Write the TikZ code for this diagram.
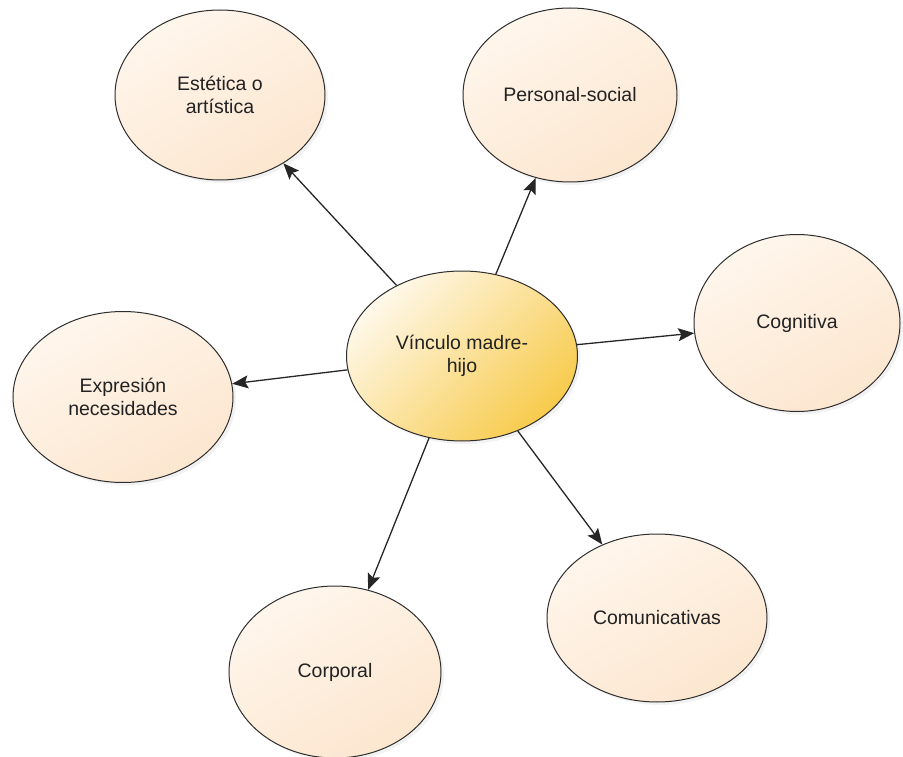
\documentclass[tikz,border=0pt]{standalone}
\usepackage{fontspec}
\setmainfont{Liberation Sans}
\usetikzlibrary{shapes.geometric,arrows.meta,shadows}
\definecolor{edgegray}{HTML}{2E2E2E}
\definecolor{txt}{HTML}{222222}
\definecolor{outerA}{HTML}{FFF6EC}
\definecolor{outerB}{HTML}{FCE6CF}
\definecolor{centA}{HTML}{FFF8EA}
\definecolor{centB}{HTML}{F7CB4C}
\tikzset{
  bubble/.style={ellipse, draw=edgegray, line width=1pt, inner sep=0pt,
    top color=outerA, bottom color=outerB, shading angle=30,
    drop shadow={shadow xshift=3pt, shadow yshift=-3pt, fill=black!10},
    text=txt, align=center,
    font=\fontsize{19.5pt}{23pt}\selectfont},
  hub/.style={bubble, top color=centA, bottom color=centB, shading angle=45},
  link/.style={draw=black!85, line width=1.3pt, -{Stealth[length=16pt,width=13pt,inset=3pt]}}
}
\begin{document}
\begin{tikzpicture}[x=1pt,y=-1pt]
\useasboundingbox (0,0) rectangle (903,757);
\node[bubble, minimum width=210pt, minimum height=170pt] (est) at (220,95) {Estética o\\artística};
\node[bubble, minimum width=214pt, minimum height=174pt] (per) at (570,95) {Personal-social};
\node[bubble, minimum width=206pt, minimum height=177pt] (cog) at (797,323) {Cognitiva};
\node[bubble, minimum width=220pt, minimum height=171pt] (exp) at (123,397) {Expresión\\necesidades};
\node[bubble, minimum width=220pt, minimum height=168pt] (com) at (657,618) {Comunicativas};
\node[bubble, minimum width=212pt, minimum height=172pt] (cor) at (335,672) {Corporal};
\node[hub, minimum width=231pt, minimum height=170pt] (vin) at (462,356) {Vínculo madre-\\hijo};
\draw[link] (vin) -- (est);
\draw[link] (vin) -- (per);
\draw[link] (vin) -- (cog);
\draw[link] (vin) -- (exp);
\draw[link] (vin) -- (cor);
\draw[link] (vin) -- (com);
\end{tikzpicture}
\end{document}
